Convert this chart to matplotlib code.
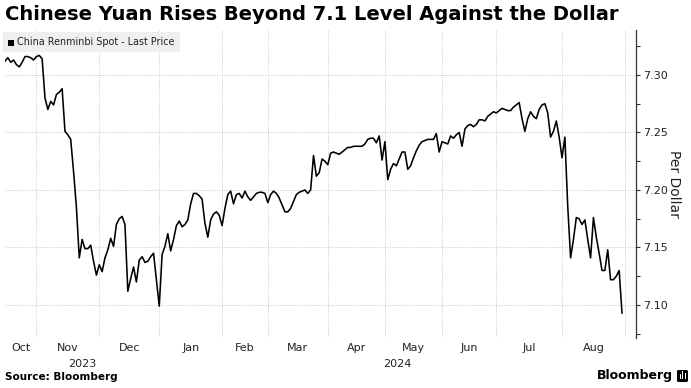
"""Chinese Yuan spot vs dollar, Oct 2023 - Aug 2024 (Bloomberg style)."""

import matplotlib

matplotlib.use("Agg")

import matplotlib.pyplot as plt
import matplotlib.transforms as mtransforms
import numpy as np
from matplotlib.patches import FancyBboxPatch, Rectangle
from matplotlib.ticker import MultipleLocator

TITLE = "Chinese Yuan Rises Beyond 7.1 Level Against the Dollar"
SERIES_NAME = "China Renminbi Spot - Last Price"

# trading days shown per month (onshore market, holidays removed)
month_labels = ["Oct", "Nov", "Dec", "Jan", "Feb", "Mar", "Apr", "May", "Jun", "Jul", "Aug"]
month_days = [11, 22, 21, 22, 16, 21, 20, 20, 19, 23, 22]
year_labels = ["2023", "2024"]
year_month_counts = [3, 8]
y_ticks = [7.10, 7.15, 7.20, 7.25, 7.30]

# USD/CNY daily close, one value per trading day
usdcny = [
    7.312, 7.315, 7.311, 7.313, 7.309, 7.307, 7.311, 7.316, 7.316, 7.315,
    7.313, 7.316, 7.317, 7.314, 7.280, 7.270, 7.277, 7.274, 7.283, 7.285,
    7.288, 7.251, 7.248, 7.244, 7.216, 7.185, 7.141, 7.157, 7.149, 7.149,
    7.152, 7.138, 7.126, 7.135, 7.129, 7.141, 7.148, 7.158, 7.151, 7.170,
    7.175, 7.177, 7.170, 7.112, 7.123, 7.133, 7.120, 7.139, 7.142, 7.137,
    7.138, 7.142, 7.145, 7.122, 7.099, 7.144, 7.151, 7.162, 7.147, 7.157,
    7.169, 7.173, 7.168, 7.170, 7.174, 7.188, 7.197, 7.197, 7.195, 7.192,
    7.171, 7.159, 7.174, 7.179, 7.181, 7.178, 7.169, 7.184, 7.196, 7.199,
    7.188, 7.196, 7.197, 7.193, 7.199, 7.194, 7.191, 7.194, 7.197, 7.198,
    7.198, 7.197, 7.189, 7.196, 7.199, 7.197, 7.193, 7.187, 7.181, 7.181,
    7.184, 7.190, 7.196, 7.198, 7.199, 7.200, 7.197, 7.200, 7.230, 7.212,
    7.215, 7.227, 7.225, 7.222, 7.232, 7.233, 7.232, 7.231, 7.233, 7.235,
    7.237, 7.237, 7.238, 7.238, 7.238, 7.238, 7.240, 7.244, 7.245, 7.245,
    7.241, 7.247, 7.226, 7.242, 7.209, 7.218, 7.223, 7.221, 7.227, 7.233,
    7.233, 7.218, 7.221, 7.228, 7.234, 7.239, 7.242, 7.243, 7.244, 7.244,
    7.244, 7.249, 7.233, 7.242, 7.241, 7.240, 7.247, 7.245, 7.248, 7.250,
    7.238, 7.253, 7.256, 7.257, 7.255, 7.257, 7.261, 7.261, 7.260, 7.264,
    7.266, 7.268, 7.267, 7.269, 7.271, 7.270, 7.269, 7.269, 7.272, 7.274,
    7.276, 7.262, 7.251, 7.262, 7.268, 7.264, 7.262, 7.270, 7.274, 7.275,
    7.267, 7.246, 7.251, 7.260, 7.246, 7.228, 7.246, 7.186, 7.141, 7.157,
    7.176, 7.175, 7.170, 7.174, 7.157, 7.141, 7.176, 7.159, 7.145, 7.130,
    7.130, 7.148, 7.122, 7.122, 7.125, 7.130, 7.093,
]

W, H = 691, 388
GRID = "#c8c8c8"


def fx(px):
    return px / W


def fy(py):
    return 1 - py / H


fig = plt.figure(figsize=(W / 100, H / 100), dpi=100)
ax = fig.add_axes([fx(5), fy(338), fx(631), 308 / H])

x = np.arange(len(usdcny))
ax.plot(x, usdcny, color="black", lw=1.15, zorder=3)

ax.set_xlim(0, len(usdcny) + 3.9)
ax.set_ylim(7.0713, 7.3391)

for side in ["top", "left", "bottom"]:
    ax.spines[side].set_visible(False)
ax.spines["right"].set_color("#333333")
ax.spines["right"].set_linewidth(0.9)

# month boundaries (gridlines) and month centres (labels)
edges = np.cumsum([0] + month_days)
starts, ends = edges[:-1], edges[1:]
ax.set_xticks(ends)
ax.set_xticklabels([])
ax.set_xticks((starts + ends) / 2, minor=True)
ax.set_xticklabels(month_labels, minor=True)
ax.tick_params(axis="x", which="both", length=0)
ax.tick_params(axis="x", which="minor", labelsize=8, pad=3.5, labelcolor="#222222")

# year labels centred under their months
trans = mtransforms.blended_transform_factory(ax.transData, ax.transAxes)
xmax = ax.get_xlim()[1]
m0 = 0
for label, n in zip(year_labels, year_month_counts):
    lo = edges[m0]
    hi = edges[m0 + n] if m0 + n < len(edges) - 1 else xmax
    ax.text((lo + hi) / 2, -0.083, label, transform=trans, ha="center",
            va="center", fontsize=8, color="#222222")
    m0 += n

ax.yaxis.tick_right()
ax.set_yticks(y_ticks)
ax.set_yticklabels([f"{v:.2f}" for v in y_ticks])
ax.yaxis.set_minor_locator(MultipleLocator(0.025))
ax.tick_params(axis="y", which="both", direction="out", length=3, width=0.8,
               colors="#333333", labelsize=8, pad=2, labelcolor="#222222")

ax.grid(which="major", color=GRID, linestyle=(0, (1, 1.5)), linewidth=0.7)

fig.text(fx(674), fy(184), "Per Dollar", rotation=270, ha="center",
         va="center", fontsize=10, color="#222222")

# title
fig.text(fx(5), fy(14), TITLE, fontsize=14, fontweight="heavy", ha="left",
         va="center", color="black")

# legend box
fig.patches.append(Rectangle((fx(3), fy(52)), fx(177), 20 / H,
                             transform=fig.transFigure, facecolor="#efefef",
                             edgecolor="none", zorder=2))
fig.patches.append(Rectangle((fx(8), fy(45.5)), fx(6), 6 / H,
                             transform=fig.transFigure, facecolor="black",
                             edgecolor="none", zorder=3))
fig.text(fx(17), fy(42), SERIES_NAME, fontsize=6.9, ha="left", va="center",
         color="#222222", zorder=4)

# footer
fig.text(fx(5), fy(377), "Source: Bloomberg", fontsize=7.5, fontweight="bold",
         ha="left", va="center", color="black")
fig.text(fx(673), fy(376), "Bloomberg", fontsize=9, fontweight="bold",
         ha="right", va="center", color="black")
fig.patches.append(FancyBboxPatch((fx(677), fy(382)), fx(11), 12 / H,
                                  boxstyle="round,pad=0,rounding_size=0.003",
                                  transform=fig.transFigure, facecolor="black",
                                  edgecolor="none", zorder=3))
for bx, bh in [(679.5, 5), (682, 8), (684.5, 6)]:
    fig.patches.append(Rectangle((fx(bx), fy(379)), fx(1.2), bh / H,
                                 transform=fig.transFigure, facecolor="white",
                                 edgecolor="none", zorder=4))

fig.savefig("out.png", dpi=100)
plt.close(fig)
